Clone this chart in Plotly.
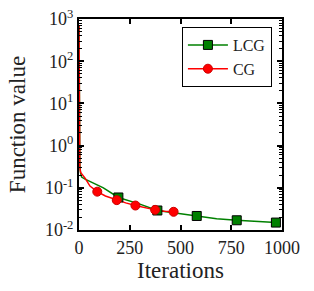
import plotly.graph_objects as go

# LCG curve (dense line) and its marker points
lcg_iter = [0, 1, 2, 4, 8, 13, 30, 70, 120, 194, 300, 386, 481, 580, 678, 777, 875, 970]
lcg_val = [700, 5, 0.8, 0.35, 0.22, 0.18, 0.16, 0.13, 0.10, 0.059, 0.041, 0.029, 0.025, 0.0215, 0.0186, 0.017, 0.016, 0.015]
lcg_mk_iter = [194, 386, 580, 777, 970]
lcg_mk_val = [0.059, 0.029, 0.0215, 0.017, 0.015]

# CG curve (dense line) and its marker points
cg_iter = [0, 1, 2, 4, 8, 30, 54, 90, 130, 186, 230, 278, 330, 375, 420, 466]
cg_val = [700, 4, 0.7, 0.3, 0.23, 0.17, 0.11, 0.081, 0.064, 0.051, 0.044, 0.038, 0.033, 0.030, 0.028, 0.027]
cg_mk_iter = [90, 186, 278, 375, 466]
cg_mk_val = [0.081, 0.051, 0.038, 0.030, 0.027]

x_ticks = [0, 250, 500, 750, 1000]
y_ticks = [1e-2, 1e-1, 1e0, 1e1, 1e2, 1e3]
y_ticktext = ["10<sup>-2</sup>", "10<sup>-1</sup>", "10<sup>0</sup>", "10<sup>1</sup>", "10<sup>2</sup>", "10<sup>3</sup>"]

GREEN = "#008000"
RED = "#ff0000"

fig = go.Figure()
fig.add_trace(go.Scatter(x=lcg_iter, y=lcg_val, mode="lines", line=dict(color=GREEN, width=1.5), showlegend=False))
fig.add_trace(go.Scatter(x=cg_iter, y=cg_val, mode="lines", line=dict(color=RED, width=1.5), showlegend=False))
fig.add_trace(go.Scatter(x=lcg_mk_iter, y=lcg_mk_val, mode="markers",
                         marker=dict(symbol="square", size=9, color=GREEN, line=dict(color="black", width=1)),
                         showlegend=False))
fig.add_trace(go.Scatter(x=cg_mk_iter, y=cg_mk_val, mode="markers",
                         marker=dict(symbol="circle", size=9, color=RED, line=dict(color="#cc0000", width=1)),
                         showlegend=False))
# legend entries
fig.add_trace(go.Scatter(x=[None], y=[None], mode="lines+markers", name="LCG",
                         line=dict(color=GREEN, width=1.5),
                         marker=dict(symbol="square", size=9, color=GREEN, line=dict(color="black", width=1))))
fig.add_trace(go.Scatter(x=[None], y=[None], mode="lines+markers", name="CG",
                         line=dict(color=RED, width=1.5),
                         marker=dict(symbol="circle", size=9, color=RED, line=dict(color="#cc0000", width=1))))

font = "Liberation Serif"
fig.update_layout(
    width=314, height=291,
    margin=dict(l=79, r=32, t=19, b=61),
    paper_bgcolor="white", plot_bgcolor="white",
    font=dict(family=font, size=18, color="#222"),
    showlegend=True,
    legend=dict(x=0.507, y=0.962, xanchor="left", yanchor="top",
                bordercolor="black", borderwidth=1, bgcolor="white",
                font=dict(family=font, size=16), tracegroupgap=0,
                itemwidth=40),
)
fig.update_xaxes(
    range=[0, 1000], tickvals=x_ticks, ticks="inside", ticklen=5, tickwidth=1.5, tickcolor="black",
    showline=True, linecolor="black", linewidth=2, mirror="ticks", showgrid=False, zeroline=False,
    automargin=False,
    title=dict(text="Iterations", font=dict(family=font, size=23), standoff=1),
    tickfont=dict(family=font, size=18),
)
fig.update_yaxes(
    type="log", range=[-2, 3], tickvals=y_ticks, ticktext=y_ticktext,
    ticks="inside", ticklen=5, tickwidth=1.5, tickcolor="black",
    minor=dict(dtick="D1", ticks="inside", ticklen=3, tickcolor="black", tickwidth=1),
    showline=True, linecolor="black", linewidth=2, mirror="ticks", showgrid=False, zeroline=False,
    automargin=False,
    title=dict(text="Function value", font=dict(family=font, size=23), standoff=13),
    tickfont=dict(family=font, size=18),
)
fig.write_html("out.html", config={"displayModeBar": False},
               post_script="document.body.style.margin='0';")
